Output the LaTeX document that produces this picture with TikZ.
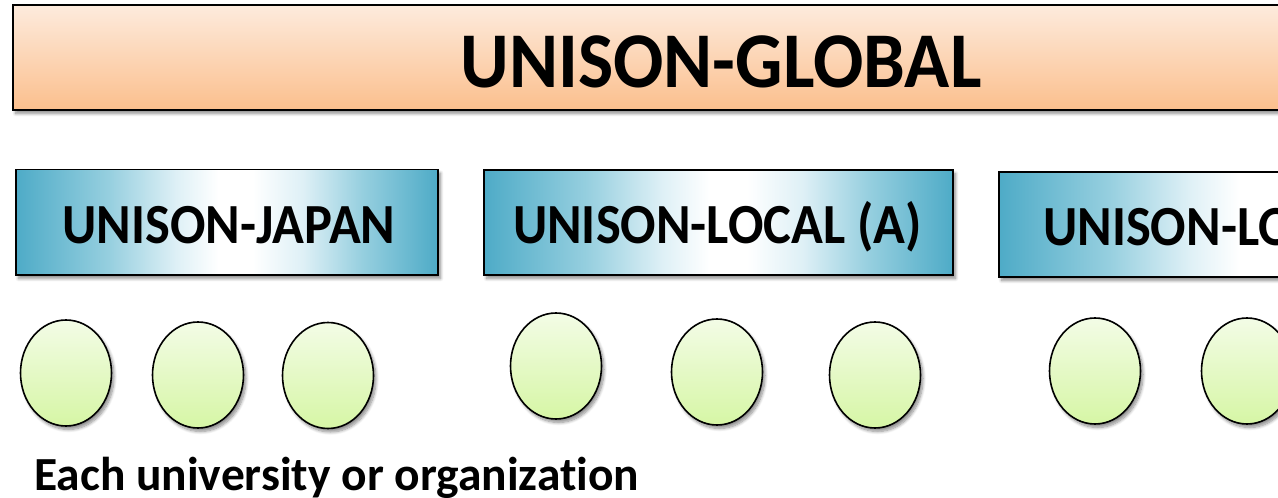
\documentclass[tikz,border=0pt]{standalone}
\usepackage{fontspec}
\setmainfont{Carlito}[Ligatures=NoCommon]
\usetikzlibrary{shapes.geometric,shadows.blur}
\definecolor{peachtop}{RGB}{253,235,221}
\definecolor{peachbot}{RGB}{251,191,141}
\definecolor{tealedge}{RGB}{78,171,199}
\definecolor{tealmid}{RGB}{150,207,223}
\definecolor{teallight}{RGB}{222,240,246}
\definecolor{limetop}{RGB}{243,252,230}
\definecolor{limebot}{RGB}{214,246,165}
\pgfdeclarehorizontalshading{tealfade}{100bp}{color(0bp)=(tealedge); color(25bp)=(tealedge); color(36bp)=(tealmid); color(44bp)=(teallight); color(49bp)=(white); color(53bp)=(white); color(59bp)=(teallight); color(66bp)=(tealmid); color(75bp)=(tealedge); color(100bp)=(tealedge)}
\begin{document}
\begin{tikzpicture}[x=1pt,y=-1pt,
  shad/.style={blur shadow={shadow xshift=2.5pt,shadow yshift=-3.5pt,shadow opacity=45,shadow blur steps=8,shadow blur radius=3pt}},
  globalbox/.style={draw=black,line width=2pt,top color=peachtop,bottom color=peachbot,inner sep=0pt,shad},
  tealbox/.style={draw=black,line width=1.5pt,shading=tealfade,inner sep=0pt,shad},
  member/.style={ellipse,draw=black,line width=1.6pt,top color=limetop,bottom color=limebot,minimum width=91pt,minimum height=106pt,inner sep=0pt,shad},
  bigtext/.style={font=\bfseries\fontsize{74.5}{80}\selectfont,inner sep=0pt},
  boxtext/.style={font=\bfseries\fontsize{52.5}{58}\selectfont,inner sep=0pt},
  foottext/.style={font=\bfseries\fontsize{47.5}{52}\selectfont,inner sep=0pt}
]
\useasboundingbox (0,0) rectangle (1278,498);
\clip (0,0) rectangle (1278,498);

% top level
\node[globalbox,minimum width=1417pt,minimum height=105pt] (global) at (721.5,57.5) {};
\node[bigtext,anchor=base] (globaltxt) at (721,87) {\scalebox{1}[1.06]{UNISON-GLOBAL}};

% second level
\node[tealbox,minimum width=422pt,minimum height=105.5pt] (japan) at (227,222.3) {};
\node[boxtext,anchor=base] (japantxt) at (229,243) {\scalebox{1}[1.08]{UNISON-JAPAN}};

\node[tealbox,minimum width=469pt,minimum height=105pt] (locala) at (718.5,222.5) {};
\node[boxtext,anchor=base] (localatxt) at (717.5,243) {\scalebox{1}[1.08]{UNISON-LOCAL (A)}};

\node[tealbox,minimum width=500pt,minimum height=105pt] (localb) at (1249,224.5) {};
\node[boxtext,anchor=base west] (localbtxt) at (1043,245) {\scalebox{1}[1.08]{UNISON-LOCAL}};

% members
\node[member] (m1) at (66,373) {};
\node[member] (m2) at (198,375) {};
\node[member] (m3) at (328,375.5) {};
\node[member] (m4) at (556,366) {};
\node[member] (m5) at (717,372) {};
\node[member] (m6) at (875,375) {};
\node[member] (m7) at (1095,371) {};
\node[member] (m8) at (1247,371) {};

\node[foottext,anchor=base west] (foot) at (34,490) {Each university or organization};
\end{tikzpicture}
\end{document}
